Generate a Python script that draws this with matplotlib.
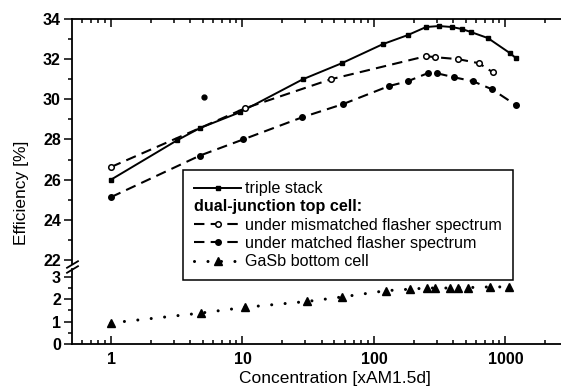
import matplotlib
matplotlib.use('Agg')
import matplotlib.pyplot as plt
from matplotlib.lines import Line2D
from matplotlib.ticker import MultipleLocator, NullFormatter

plt.rcParams['font.family'] = ['Liberation Sans', 'DejaVu Sans']

# values
conc_triple = [1, 3.2, 4.75, 9.6, 28.8, 57, 117, 181, 249, 312, 392, 467, 547, 736, 1082, 1202]
eff_triple = [26.0, 27.97, 28.57, 29.36, 31.0, 31.8, 32.75, 33.2, 33.6, 33.65, 33.6, 33.5, 33.35, 33.05, 32.3, 32.05]

conc_mism = [1, 10.5, 47, 249, 290, 438, 627, 800]
eff_mism = [26.63, 29.56, 31.0, 32.15, 32.1, 32.0, 31.8, 31.35]

conc_match = [1, 4.75, 10.1, 28.3, 58, 130, 181, 256, 300, 405, 566, 790, 1210]
eff_match = [25.13, 27.2, 28.0, 29.1, 29.76, 30.66, 30.9, 31.3, 31.3, 31.1, 30.9, 30.5, 29.7]

# lone dot above the curves
stray_conc = [5.1]
stray_eff = [30.1]

conc_gasb = [1, 4.8, 10.5, 31, 57, 123, 188, 253, 291, 377, 435, 518, 760, 1060]
eff_gasb = [0.94, 1.38, 1.64, 1.9, 2.1, 2.38, 2.45, 2.5, 2.5, 2.5, 2.52, 2.52, 2.55, 2.55]

xtick_vals = [1, 10, 100, 1000]
xtick_labels = ['1', '10', '100', '1000']
ytop_ticks = [22, 24, 26, 28, 30, 32, 34]
ybot_ticks = [0, 1, 2, 3]

W, H = 561, 390
fig = plt.figure(figsize=(W / 100, H / 100), dpi=100)


def box(l, t, r, b):
    return [l / W, 1 - b / H, (r - l) / W, (b - t) / H]


ax_top = fig.add_axes(box(72, 19, 563, 264))
ax_bot = fig.add_axes(box(72, 269, 563, 344), sharex=ax_top)

dash = (0, (5, 3))
h1, = ax_top.plot(conc_triple, eff_triple, '-', color='k', lw=1.4, marker='s', ms=3.5)
h2, = ax_top.plot(conc_mism, eff_mism, ls=dash, color='k', lw=1.5, marker='o', ms=4, mfc='white', mew=1.1)
h3, = ax_top.plot(conc_match, eff_match, ls=dash, color='k', lw=1.5, marker='o', ms=4)
ax_top.plot(stray_conc, stray_eff, 'o', color='k', ms=3.5)
h4, = ax_bot.plot(conc_gasb, eff_gasb, ls=(0, (0.01, 4.4)), dash_capstyle='round', color='k', lw=2.2,
                  marker='^', ms=5.5)

ax_top.set_xscale('log')
ax_top.set_xlim(0.505, 2740)
ax_top.set_ylim(21.8, 34)
ax_bot.set_ylim(0, 3.35)

ax_bot.set_xticks(xtick_vals)
ax_bot.set_xticklabels(xtick_labels)
ax_bot.xaxis.set_minor_formatter(NullFormatter())

ax_top.set_yticks(ytop_ticks)
ax_top.yaxis.set_minor_locator(MultipleLocator(1))
ax_bot.set_yticks(ybot_ticks)
ax_bot.yaxis.set_minor_locator(MultipleLocator(0.5))

for ax in (ax_top, ax_bot):
    for s in ax.spines.values():
        s.set_linewidth(1.3)
    ax.tick_params(axis='y', which='both', direction='out', left=True, right=True, width=1.1)
    ax.tick_params(axis='y', which='major', length=6, pad=2, labelsize=11.5)
    ax.tick_params(axis='y', which='minor', length=3)
    for lab in ax.get_yticklabels():
        lab.set_fontweight('bold')

ax_top.spines['bottom'].set_visible(False)
ax_bot.spines['top'].set_visible(False)
ax_top.tick_params(axis='x', which='both', direction='in', top=True, bottom=False,
                   labelbottom=False, labeltop=False, width=1.1)
ax_bot.tick_params(axis='x', which='both', direction='in', top=False, bottom=True, width=1.1)
ax_top.tick_params(axis='x', which='major', length=6)
ax_top.tick_params(axis='x', which='minor', length=3)
ax_bot.tick_params(axis='x', which='major', length=6, labelsize=11.5, pad=6)
ax_bot.tick_params(axis='x', which='minor', length=3)
for lab in ax_bot.get_xticklabels():
    lab.set_fontweight('bold')

# break marks on the left spine
kw = dict(marker=[(-1, -0.6), (1, 0.6)], markersize=9, linestyle='none', color='k', mec='k', mew=1.3, clip_on=False)
ax_top.plot([0], [0], transform=ax_top.transAxes, **kw)
ax_bot.plot([0], [1], transform=ax_bot.transAxes, **kw)

blank = Line2D([], [], color='none')
leg = fig.legend([h1, blank, h2, h3, h4],
                 ['triple stack', 'dual-junction top cell:', 'under mismatched flasher spectrum',
                  'under matched flasher spectrum', 'GaSb bottom cell'],
                 loc='upper left', bbox_to_anchor=(183 / W, 1 - 170 / H), borderaxespad=0,
                 fontsize=11.6, handlelength=2.9, handletextpad=0.25, labelspacing=0.2,
                 borderpad=0.7, fancybox=False, framealpha=1, edgecolor='k')
leg.get_frame().set_linewidth(1.1)
leg.get_texts()[1].set_fontweight('bold')
# header row: drop its handle so the text starts at the left edge
col = leg._legend_handle_box.get_children()[0]
row = col.get_children()[1]
row.get_children().pop(0)

fig.text(335 / W, 1 - 378 / H, 'Concentration [xAM1.5d]', ha='center', va='center', fontsize=12.5)
fig.text(22 / W, 1 - 193 / H, 'Efficiency [%]', rotation=90, ha='center', va='center', fontsize=12.5)

fig.savefig('out.png', dpi=100)
